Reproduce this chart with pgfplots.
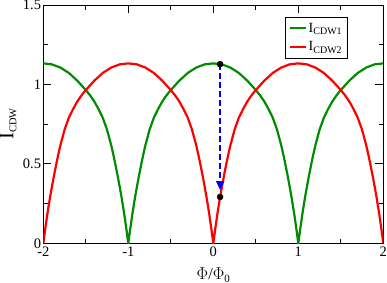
\documentclass[border=0pt]{standalone}
\usepackage{pgfplots}
\pgfplotsset{compat=1.18}
\usepackage{fontspec}
\setmainfont{Liberation Serif}
\usetikzlibrary{arrows.meta}
\definecolor{curvegreen}{RGB}{0,140,0}
\begin{document}
\begin{tikzpicture}
\begin{axis}[
  name=ax,
  scale only axis,
  width=340pt, height=238.2pt,
  xmin=-2, xmax=2, ymin=0, ymax=1.5,
  xtick={-2,-1,0,1,2},
  ytick={0,0.5,1,1.5},
  xticklabels={-2,-1,0,1,2},
  yticklabels={0,0.5,1,1.5},
  minor x tick num=1,
  minor y tick num=1,
  tick align=inside,
  major tick length=8pt,
  minor tick length=4.5pt,
  every tick/.style={black, line width=0.9pt},
  axis line style={line width=1.2pt},
  tick label style={font=\fontsize{14.5}{16}\selectfont},
  xticklabel style={inner sep=1pt, yshift=-2pt},
  yticklabel style={inner sep=1pt, xshift=-1pt},
  xlabel={\fontsize{16.5}{18}\selectfont $\Phi$/$\Phi$\raisebox{-3pt}{\fontsize{11}{11}\selectfont 0}},
  xlabel style={at={(axis description cs:0.5,0)}, anchor=base, yshift=-36pt},
  ylabel={\fontsize{21}{22}\selectfont I\raisebox{-3pt}{\fontsize{10.5}{11}\selectfont CDW}},
  ylabel style={at={(axis description cs:-0.068,0.5)}, anchor=south},
  legend style={at={(rel axis cs:0.893,0.951)}, anchor=north east, draw=black,
    font=\fontsize{14}{17}\selectfont, row sep=4pt, inner ysep=4pt},
  legend cell align=left,
  legend image code/.code={\draw[#1] (0pt,0pt) -- (16pt,0pt);},
]
\addplot[color=curvegreen, line width=2.2pt] coordinates {
(-2,1.133) (-1.9,1.127) (-1.8,1.107) (-1.7,1.073) (-1.6,1.024) (-1.5,0.965) (-1.45,0.932) (-1.4,0.893) (-1.35,0.845) (-1.3,0.79) (-1.25,0.715) (-1.2,0.615) (-1.175,0.556) (-1.15,0.492) (-1.125,0.424) (-1.1,0.352) (-1.08,0.292) (-1.05,0.192) (-1.02,0.08) (-1,0)
(-0.98,0.08) (-0.95,0.192) (-0.92,0.292) (-0.9,0.352) (-0.875,0.424) (-0.85,0.492) (-0.825,0.556) (-0.8,0.615) (-0.75,0.715) (-0.7,0.79) (-0.65,0.845) (-0.6,0.893) (-0.55,0.932) (-0.5,0.965) (-0.4,1.024) (-0.3,1.073) (-0.2,1.107) (-0.1,1.127) (0,1.133)
(0.1,1.127) (0.2,1.107) (0.3,1.073) (0.4,1.024) (0.5,0.965) (0.55,0.932) (0.6,0.893) (0.65,0.845) (0.7,0.79) (0.75,0.715) (0.8,0.615) (0.825,0.556) (0.85,0.492) (0.875,0.424) (0.9,0.352) (0.92,0.292) (0.95,0.192) (0.98,0.08) (1,0)
(1.02,0.08) (1.05,0.192) (1.08,0.292) (1.1,0.352) (1.125,0.424) (1.15,0.492) (1.175,0.556) (1.2,0.615) (1.25,0.715) (1.3,0.79) (1.35,0.845) (1.4,0.893) (1.45,0.932) (1.5,0.965) (1.6,1.024) (1.7,1.073) (1.8,1.107) (1.9,1.127) (2,1.133)
};
\addlegendentry{I\raisebox{-2.5pt}{\fontsize{10}{10}\selectfont CDW1}}
\addplot[color=red, line width=2.2pt] coordinates {
(-2,0) (-1.98,0.08) (-1.95,0.192) (-1.92,0.292) (-1.9,0.352) (-1.875,0.424) (-1.85,0.492) (-1.825,0.556) (-1.8,0.615) (-1.75,0.715) (-1.7,0.79) (-1.65,0.845) (-1.6,0.893) (-1.55,0.932) (-1.5,0.965) (-1.4,1.024) (-1.3,1.073) (-1.2,1.107) (-1.1,1.127) (-1,1.133)
(-0.9,1.127) (-0.8,1.107) (-0.7,1.073) (-0.6,1.024) (-0.5,0.965) (-0.45,0.932) (-0.4,0.893) (-0.35,0.845) (-0.3,0.79) (-0.25,0.715) (-0.2,0.615) (-0.175,0.556) (-0.15,0.492) (-0.125,0.424) (-0.1,0.352) (-0.08,0.292) (-0.05,0.192) (-0.02,0.08) (0,0)
(0.02,0.08) (0.05,0.192) (0.08,0.292) (0.1,0.352) (0.125,0.424) (0.15,0.492) (0.175,0.556) (0.2,0.615) (0.25,0.715) (0.3,0.79) (0.35,0.845) (0.4,0.893) (0.45,0.932) (0.5,0.965) (0.6,1.024) (0.7,1.073) (0.8,1.107) (0.9,1.127) (1,1.133)
(1.1,1.127) (1.2,1.107) (1.3,1.073) (1.4,1.024) (1.5,0.965) (1.55,0.932) (1.6,0.893) (1.65,0.845) (1.7,0.79) (1.75,0.715) (1.8,0.615) (1.825,0.556) (1.85,0.492) (1.875,0.424) (1.9,0.352) (1.92,0.292) (1.95,0.192) (1.98,0.08) (2,0)
};
\addlegendentry{I\raisebox{-2.5pt}{\fontsize{10}{10}\selectfont CDW2}}
\addplot[color=blue, line width=1.5pt, dash pattern=on 6pt off 3pt, -{Triangle[length=9pt,width=8pt]}, forget plot] coordinates {(0.08,1.128) (0.08,0.335)};
\addplot[only marks, mark=*, mark size=3pt, black, forget plot] coordinates {(0.08,1.128) (0.08,0.292)};
\end{axis}
\pgfresetboundingbox
\path[use as bounding box] ([xshift=-43.3pt,yshift=-38.7pt]ax.south west) rectangle ([xshift=3.7pt,yshift=5.1pt]ax.north east);
\end{tikzpicture}
\end{document}
